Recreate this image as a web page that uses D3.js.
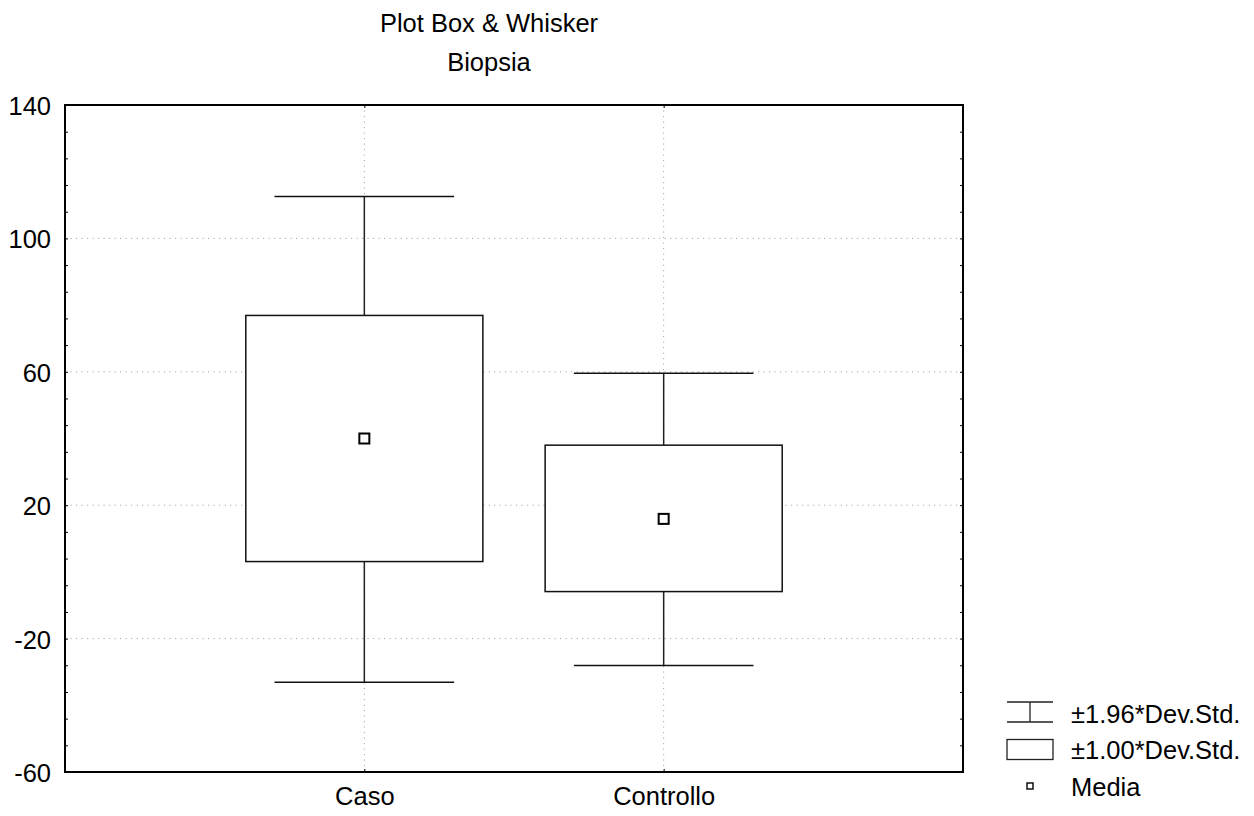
<!DOCTYPE html>
<html>
<head>
<meta charset="utf-8">
<script src="https://cdn.jsdelivr.net/npm/d3@7"></script>
<style>
  html, body { margin: 0; padding: 0; background: #fff; }
  text { font-family: "Liberation Sans", Arial, sans-serif; fill: #000; }
</style>
</head>
<body>
<svg id="chart" width="1254" height="816"></svg>
<script>
// ---- data ----
const categories = ["Caso", "Controllo"];
const means      = [40.0, 15.9];
const sdLow      = [3.1, -5.9];
const sdHigh     = [76.9, 38.0];
const whiskLow   = [-33.1, -28.1];
const whiskHigh  = [112.6, 59.6];
const yTicks     = [-60, -20, 20, 60, 100, 140];
const titleLines = ["Plot Box & Whisker", "Biopsia"];
const legendLabels = ["±1.96*Dev.Std.", "±1.00*Dev.Std.", "Media"];

// ---- layout ----
const L = 65, R = 963, T = 105, B = 772;
const FS = 25.5;
const svg = d3.select("#chart");

const y = d3.scaleLinear().domain([-60, 140]).range([B, T]);
const x = d3.scalePoint().domain(categories).range([L, R]).padding(1);
const step = x.step();
const boxW = step * 0.792, capW = step * 0.6;

// title
svg.selectAll("text.title").data(titleLines).join("text")
  .attr("class", "title")
  .attr("x", 489).attr("y", (d, i) => 32 + i * 38.5)
  .attr("text-anchor", "middle").attr("font-size", FS).text(d => d);

// grid
const gridY = yTicks.filter(d => d > -60 && d < 140);
svg.append("g").selectAll("line").data(gridY).join("line")
  .attr("x1", L).attr("x2", R).attr("y1", d => y(d)).attr("y2", d => y(d))
  .attr("stroke", "#a8a8a8").attr("stroke-width", 1).attr("stroke-dasharray", "1.2,4.3");
svg.append("g").selectAll("line").data(categories).join("line")
  .attr("x1", d => x(d)).attr("x2", d => x(d)).attr("y1", T).attr("y2", B)
  .attr("stroke", "#a8a8a8").attr("stroke-width", 1).attr("stroke-dasharray", "1.2,4.3");

// minor ticks (inside, both sides)
const minor = d3.range(-60, 140.1, 8);
const axL = svg.append("g").attr("transform", `translate(${L},0)`)
  .call(d3.axisRight(y).tickValues(minor).tickSize(3).tickFormat(""));
const axR = svg.append("g").attr("transform", `translate(${R},0)`)
  .call(d3.axisLeft(y).tickValues(minor).tickSize(3).tickFormat(""));
const axT = svg.append("g").attr("transform", `translate(0,${T})`)
  .call(d3.axisBottom(x).tickSize(3).tickFormat(""));
const axB = svg.append("g").attr("transform", `translate(0,${B})`)
  .call(d3.axisTop(x).tickSize(3).tickFormat(""));
[axL, axR, axT, axB].forEach(g => {
  g.select(".domain").remove();
  g.selectAll(".tick line").attr("stroke", "#000").attr("stroke-width", 1);
});

// y labels
const yLab = svg.append("g").attr("transform", `translate(${L},0)`)
  .call(d3.axisLeft(y).tickValues(yTicks).tickSize(0).tickPadding(14).tickFormat(d => String(d)));
yLab.select(".domain").remove();
yLab.selectAll("text").attr("font-size", FS).attr("font-family", "Liberation Sans, Arial, sans-serif")
  .attr("fill", "#000").attr("dy", "0.37em");

// x labels
const xLab = svg.append("g").attr("transform", `translate(0,${B})`)
  .call(d3.axisBottom(x).tickSize(0).tickPadding(15));
xLab.select(".domain").remove();
xLab.selectAll("text").attr("font-size", FS).attr("font-family", "Liberation Sans, Arial, sans-serif")
  .attr("fill", "#000").attr("dy", "0.71em");

// boxes & whiskers
const g = svg.append("g");
categories.forEach((c, i) => {
  const cx = x(c);
  // whisker stems
  g.append("line").attr("x1", cx).attr("x2", cx).attr("y1", y(whiskHigh[i])).attr("y2", y(sdHigh[i]))
    .attr("stroke", "#222").attr("stroke-width", 1.5);
  g.append("line").attr("x1", cx).attr("x2", cx).attr("y1", y(sdLow[i])).attr("y2", y(whiskLow[i]))
    .attr("stroke", "#222").attr("stroke-width", 1.5);
  // caps
  [whiskHigh[i], whiskLow[i]].forEach(v => {
    g.append("line").attr("x1", cx - capW / 2).attr("x2", cx + capW / 2).attr("y1", y(v)).attr("y2", y(v))
      .attr("stroke", "#111").attr("stroke-width", 1.5);
  });
  // box
  g.append("rect").attr("x", cx - boxW / 2).attr("width", boxW)
    .attr("y", y(sdHigh[i])).attr("height", y(sdLow[i]) - y(sdHigh[i]))
    .attr("fill", "#fff").attr("stroke", "#111").attr("stroke-width", 1.5);
  // mean
  g.append("rect").attr("x", cx - 5).attr("y", y(means[i]) - 5).attr("width", 10).attr("height", 10)
    .attr("fill", "#fff").attr("stroke", "#000").attr("stroke-width", 2);
});

// frame
svg.append("rect").attr("x", L).attr("y", T).attr("width", R - L).attr("height", B - T)
  .attr("fill", "none").attr("stroke", "#000").attr("stroke-width", 2);

// legend
const lg = svg.append("g");
const sx1 = 1007, sx2 = 1053, smid = (sx1 + sx2) / 2, tx = 1071;
// whisker symbol
lg.append("line").attr("x1", sx1).attr("x2", sx2).attr("y1", 702).attr("y2", 702).attr("stroke", "#222").attr("stroke-width", 1.3);
lg.append("line").attr("x1", sx1).attr("x2", sx2).attr("y1", 722).attr("y2", 722).attr("stroke", "#222").attr("stroke-width", 1.3);
lg.append("line").attr("x1", smid).attr("x2", smid).attr("y1", 702).attr("y2", 722).attr("stroke", "#222").attr("stroke-width", 1.3);
// box symbol
lg.append("rect").attr("x", sx1).attr("y", 739.5).attr("width", sx2 - sx1).attr("height", 20)
  .attr("fill", "#fff").attr("stroke", "#222").attr("stroke-width", 1.3);
// mean symbol
lg.append("rect").attr("x", smid - 3).attr("y", 783).attr("width", 6).attr("height", 6)
  .attr("fill", "#fff").attr("stroke", "#000").attr("stroke-width", 1.4);
lg.selectAll("text").data(legendLabels).join("text")
  .attr("x", tx).attr("y", (d, i) => [723, 759, 796][i])
  .attr("font-size", FS).text(d => d);
</script>
</body>
</html>
